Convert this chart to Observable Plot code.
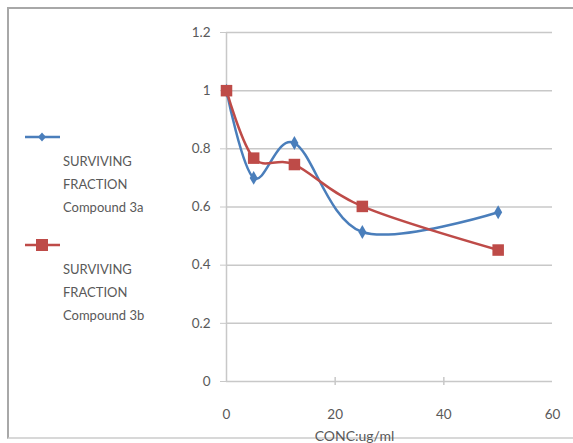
<!DOCTYPE html>
<html>
<head>
<meta charset="utf-8">
<script src="https://cdn.jsdelivr.net/npm/d3@7"></script>
<script src="https://cdn.jsdelivr.net/npm/@observablehq/plot@0.6"></script>
<style>
  html, body { margin: 0; padding: 0; background: #fff; }
  #wrap { position: relative; width: 573px; height: 443px; overflow: hidden; font-family: Lato, "Open Sans", sans-serif; }
  #frame { position: absolute; left: 7px; top: 7px; width: 600px; height: 432px; border-top: 2px solid #a8a8a8; border-left: 2px solid #a8a8a8; border-bottom: 2px solid #d8d8d8; box-sizing: border-box; }
  #chart { position: absolute; left: 0; top: 0; }
  .leg { position: absolute; left: 25px; font-size: 13px; color: #595959; }
  .leg .txt { position: absolute; left: 38px; line-height: 23px; white-space: nowrap; }
  .leg svg { position: absolute; left: 0; top: 0; overflow: visible; }
</style>
</head>
<body>
<div id="wrap">
  <div id="frame"></div>
  <div id="chart"></div>
  <div id="legend"></div>
</div>
<script>
const conc = [0, 5, 12.5, 25, 50];
const seriesA = [1.0, 0.70, 0.82, 0.514, 0.582];
const seriesB = [1.0, 0.768, 0.746, 0.602, 0.452];
const seriesNames = ["SURVIVING FRACTION Compound 3a", "SURVIVING FRACTION Compound 3b"];
const colors = ["#4a7ebb", "#be4b48"];
const xTicks = [0, 20, 40, 60];
const yTicks = [0, 0.2, 0.4, 0.6, 0.8, 1.0, 1.2];
const xLabel = "CONC:ug/ml";

const dataA = conc.map((x, i) => ({x, y: seriesA[i]}));
const dataB = conc.map((x, i) => ({x, y: seriesB[i]}));

const chart = Plot.plot({
  width: 573,
  height: 443,
  marginLeft: 226,
  marginRight: 21,
  marginTop: 32,
  marginBottom: 62,
  style: {fontFamily: "Lato, 'Open Sans', sans-serif", fontSize: "13.5px", color: "#595959", background: "transparent", overflow: "visible"},
  x: {type: "linear", domain: [0, 60]},
  y: {type: "linear", domain: [0, 1.2]},
  marks: [
    Plot.ruleY(yTicks, {stroke: "#c8c8c8", strokeWidth: 1.5}),
    Plot.ruleX([0], {stroke: "#c8c8c8", strokeWidth: 1.5}),
    Plot.axisY({ticks: yTicks, tickSize: 6, tickPadding: 10, stroke: "#c8c8c8", label: null, fill: "#595959", tickFormat: d => String(+d.toFixed(1))}),
    Plot.ruleX(xTicks.slice(1, 3), {y1: -0.014, y2: 0.014, stroke: "#c8c8c8", strokeWidth: 1.5}),
    Plot.axisX({ticks: xTicks, tickSize: 0, tickPadding: 28, label: null, fill: "#595959"}),
    Plot.text([xLabel], {frameAnchor: "bottom", dx: -35, dy: 59, fill: "#595959", fontSize: 14}),
    Plot.line(dataA, {x: "x", y: "y", stroke: colors[0], strokeWidth: 2.5, curve: "cardinal", tension: 0}),
    Plot.line(dataB, {x: "x", y: "y", stroke: colors[1], strokeWidth: 2.5, curve: "cardinal", tension: 0}),
    Plot.dot(dataA, {x: "x", y: "y", symbol: "diamond", r: 4.2, fill: colors[0], stroke: "none"}),
    Plot.dot(dataB, {x: "x", y: "y", symbol: "square", r: 6.5, fill: colors[1], stroke: "none"})
  ]
});
document.getElementById("chart").appendChild(chart);

// legend
const legend = document.getElementById("legend");
const legTops = [137, 245];
seriesNames.forEach((name, i) => {
  const g = document.createElement("div");
  g.className = "leg";
  g.style.top = legTops[i] + "px";
  const marker = i === 0
    ? `<path d="M17,-4.5 L21,0 L17,4.5 L13,0 Z" fill="${colors[0]}"/>`
    : `<rect x="11" y="-6" width="12" height="12" fill="${colors[1]}"/>`;
  const w = name.split(" ");
  g.innerHTML = `<svg width="40" height="2"><line x1="0" y1="0" x2="35" y2="0" stroke="${colors[i]}" stroke-width="2.5"/>${marker}</svg>` +
    `<div class="txt" style="top:13px">${w[0]}<br>${w[1]}<br>${w.slice(2).join(" ")}</div>`;
  legend.appendChild(g);
});
</script>
</body>
</html>
